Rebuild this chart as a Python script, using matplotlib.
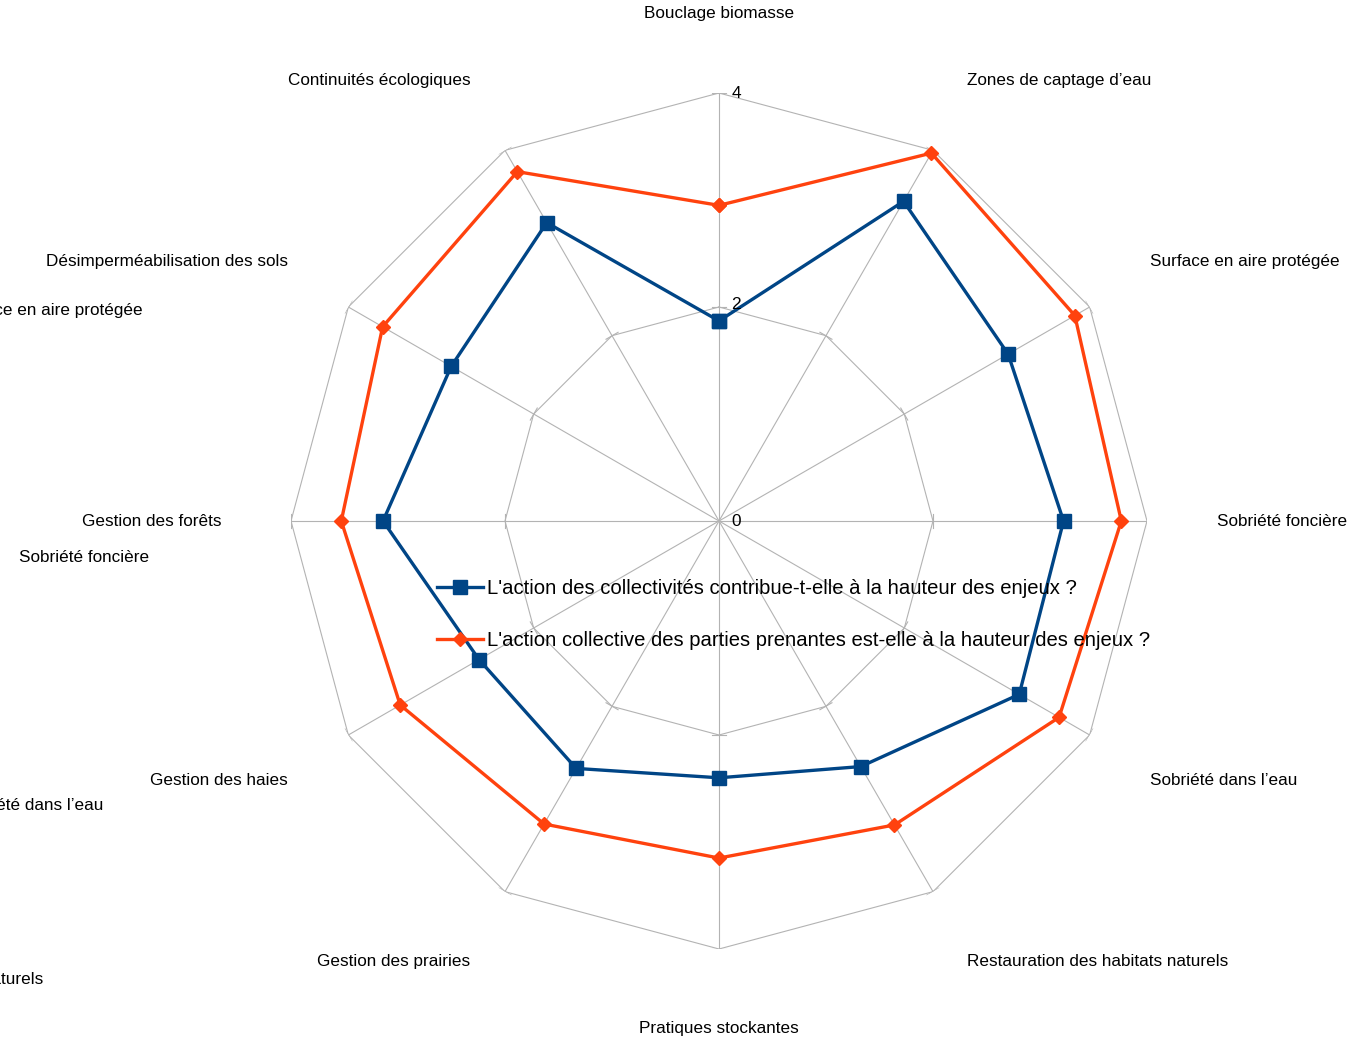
import numpy as np
import matplotlib
matplotlib.use('Agg')
from matplotlib import pyplot as plt
from matplotlib.lines import Line2D

plt.rcParams['font.family'] = ['Liberation Sans', 'DejaVu Sans']

categories = ['Bouclage biomasse', 'Zones de captage d\u2019eau', 'Surface en aire protégée',
              'Sobriété foncière', 'Sobriété dans l\u2019eau', 'Restauration des habitats naturels',
              'Pratiques stockantes', 'Gestion des prairies', 'Gestion des haies',
              'Gestion des forêts', 'Désimperméabilisation des sols', 'Continuités écologiques']
collectivites = [1.87, 3.45, 3.12, 3.22, 3.24, 2.65, 2.40, 2.67, 2.59, 3.14, 2.89, 3.22]
parties = [2.95, 3.97, 3.84, 3.76, 3.67, 3.28, 3.15, 3.27, 3.44, 3.53, 3.63, 3.77]
series_names = ["L'action des collectivités contribue-t-elle à la hauteur des enjeux ?",
                "L'action collective des parties prenantes est-elle à la hauteur des enjeux ?"]
ticks = [0, 2, 4]

blue = '#004586'
orange = '#ff420e'
grid = '#b3b3b3'

W, H = 1366, 1038
fig = plt.figure(figsize=(W / 100, H / 100), dpi=100)
cx, cy, R = 719, 521, 428
ax = fig.add_axes([(cx - R) / W, (H - cy - R) / H, 2 * R / W, 2 * R / H], projection='polar')
ax.set_theta_zero_location('N')
ax.set_theta_direction(-1)
ax.set_ylim(0, 4)
ax.set_axis_off()

n = len(categories)
theta = np.deg2rad(np.arange(n) * 360 / n)
tc = np.append(theta, theta[0])

# grid polygons and spokes
for r in ticks[1:]:
    ax.plot(tc, [r] * (n + 1), color=grid, lw=0.8, zorder=1)
for t in theta:
    ax.plot([t, t], [0, 4], color=grid, lw=0.8, zorder=1)
    for r in ticks[1:]:
        d = 0.065 / r
        ax.plot([t - d, t + d], [r, r], color=grid, lw=0.8, zorder=1)

ax.plot(tc, np.append(collectivites, collectivites[0]), color=blue, lw=2.4,
        marker='s', ms=10, zorder=3, clip_on=False)
ax.plot(tc, np.append(parties, parties[0]), color=orange, lw=2.4,
        marker='D', ms=7.5, zorder=3, clip_on=False)

for r in ticks:
    ax.annotate(str(r), xy=(0, r), xytext=(9, 0 if r != 2 else 1.5), textcoords='offset points',
                ha='left', va='center', fontsize=12.4, annotation_clip=False)

# label anchor: radius and small angular shift away from the horizontal axis
lab_r = {0: 4.74, 30: 4.73, 60: 4.70, 90: 4.65}
lab_shift = {0: 0, 30: 0.6, 60: 1.0, 90: 0}
for t, lab in zip(np.rad2deg(theta), categories):
    t = int(round(t))
    k = min(t % 180, 180 - t % 180)
    if t % 180 == 0:
        ha = 'center'
    else:
        ha = 'left' if t < 180 else 'right'
    # shift toward the nearer vertical pole
    up = (t < 90) or (t > 270)
    sgn = 1 if t < 180 else -1
    a = t - sgn * lab_shift[k] if up else t + sgn * lab_shift[k]
    ax.text(np.deg2rad(a), lab_r[k], lab, ha=ha, va='center', fontsize=12.3, clip_on=False)

# stray duplicated labels at left edge
stray = [('Surface en aire protégée', 143, 310), ('Sobriété foncière', 149, 557),
         ('Sobriété dans l\u2019eau', 103, 805), ('Restauration des habitats naturels', 43, 979)]
for lab, x, y in stray:
    fig.text(x / W, 1 - y / H, lab, ha='right', va='center', fontsize=12.3)

handles = [Line2D([], [], color=blue, lw=2.4, marker='s', ms=10),
           Line2D([], [], color=orange, lw=2.4, marker='D', ms=7.5)]
fig.legend(handles, series_names, loc='center left', bbox_to_anchor=(437 / W, 1 - 614.5 / H),
           frameon=False, fontsize=14.6, handlelength=2.25, handletextpad=0.23,
           labelspacing=1.63, borderpad=0, borderaxespad=0)

plt.savefig('out.png', dpi=100)
